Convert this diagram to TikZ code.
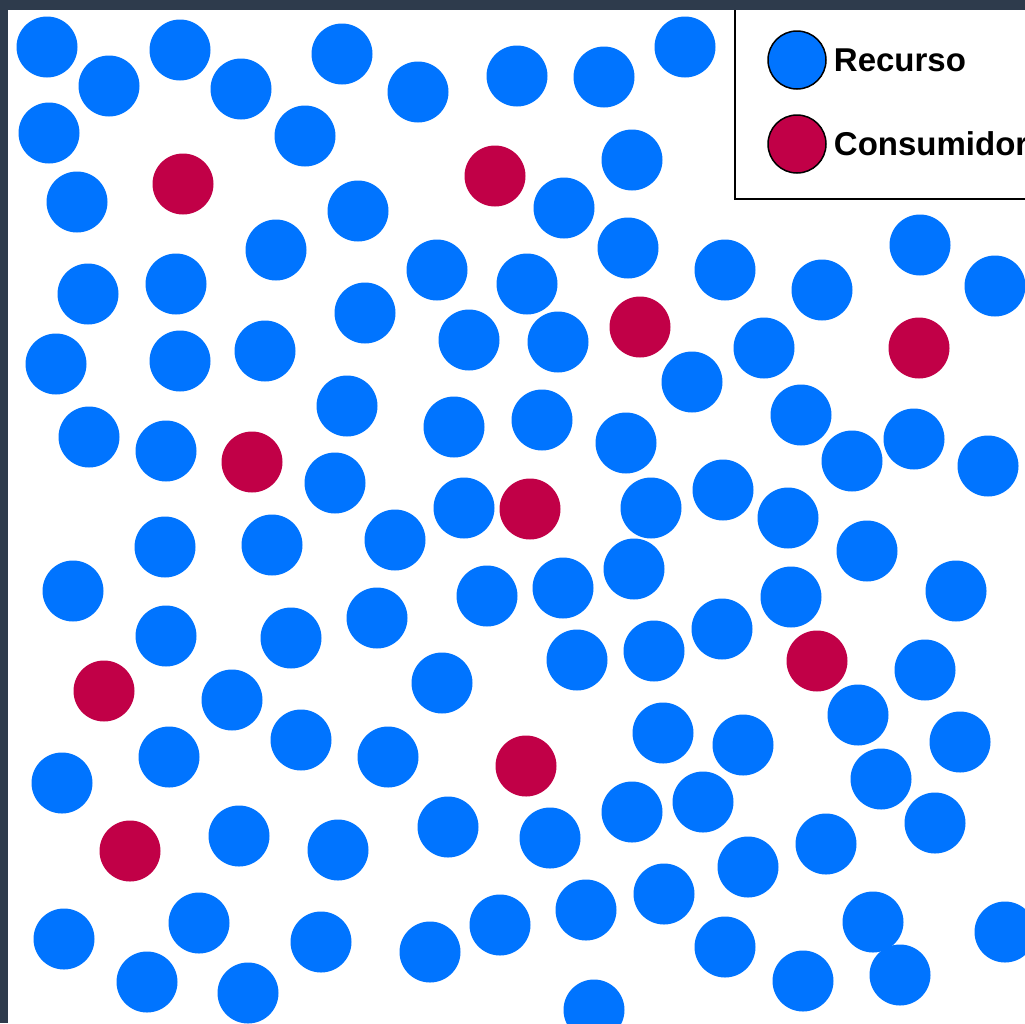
\documentclass[tikz,border=0pt]{standalone}
\usepackage{fontspec}
\setmainfont{Liberation Sans}
\usepackage{xcolor}
\usepackage{tikz}
\usetikzlibrary{positioning}

\definecolor{recursoblue}{HTML}{0074FF}
\definecolor{consumidorred}{HTML}{C10047}
\definecolor{framedark}{HTML}{2E3B4C}

\tikzset{
  recurso/.style={circle, fill=recursoblue, inner sep=0pt, minimum size=61pt},
  consumidor/.style={circle, fill=consumidorred, inner sep=0pt, minimum size=61pt},
  legendmark/.style={circle, draw=black, line width=1.5pt, inner sep=0pt, minimum size=58pt},
  legendtext/.style={font=\bfseries\fontsize{33}{36}\selectfont, inner sep=1pt}
}

\begin{document}
\begin{tikzpicture}[x=1pt, y=-1pt]
\useasboundingbox (0,0) rectangle (1025,1023);
\fill[framedark] (0,0) rectangle (1025,1023);
\fill[white] (8,10) rectangle (1025,1023);

% recursos
\foreach \x/\y [count=\i] in {47/47, 109/86, 180/50, 241/89, 342/54, 418/92, 517/76, 604/77, 685/47,
  49/133, 305/136, 632/160, 77/202, 358/211, 564/208, 276/250, 628/248, 437/270, 527/284,
  725/270, 822/290, 920/245, 995/286, 88/294, 176/284, 365/313, 56/364, 180/361, 265/351,
  469/340, 558/342, 764/348, 692/382, 347/406, 89/437, 166/451, 454/427, 542/420, 626/443,
  801/415, 914/439, 852/461, 988/466, 335/483, 464/508, 651/508, 723/490, 788/518, 165/547,
  272/545, 395/540, 867/551, 73/591, 634/569, 563/588, 487/596, 791/597, 956/591, 377/618,
  166/636, 291/638, 442/683, 577/660, 654/651, 722/629, 925/670, 232/700, 858/715, 301/740,
  169/757, 388/757, 663/733, 743/745, 960/742, 62/783, 881/779, 632/812, 703/802, 935/823,
  239/836, 338/850, 448/827, 550/838, 826/844, 748/867, 64/939, 199/923, 321/942, 430/952,
  500/925, 586/910, 664/894, 725/947, 873/922, 1005/932, 147/982, 248/993, 594/1010, 803/981,
  900/975}
  \node[recurso] (r\i) at (\x,\y) {};

% consumidores
\foreach \x/\y [count=\i] in {183/184, 495/176, 640/327, 919/348, 252/462, 530/509,
  104/691, 817/661, 526/766, 130/851}
  \node[consumidor] (c\i) at (\x,\y) {};

% leyenda
\draw[line width=2.5pt] (735,10) |- (1030,199);
\node[legendmark, fill=recursoblue] (legrec) at (797,60) {};
\node[legendmark, fill=consumidorred] (legcon) at (797,144) {};
\node[legendtext, right=6pt of legrec] (txtrec) {Recurso};
\node[legendtext, right=6pt of legcon] (txtcon) {Consumidor};
\end{tikzpicture}
\end{document}
